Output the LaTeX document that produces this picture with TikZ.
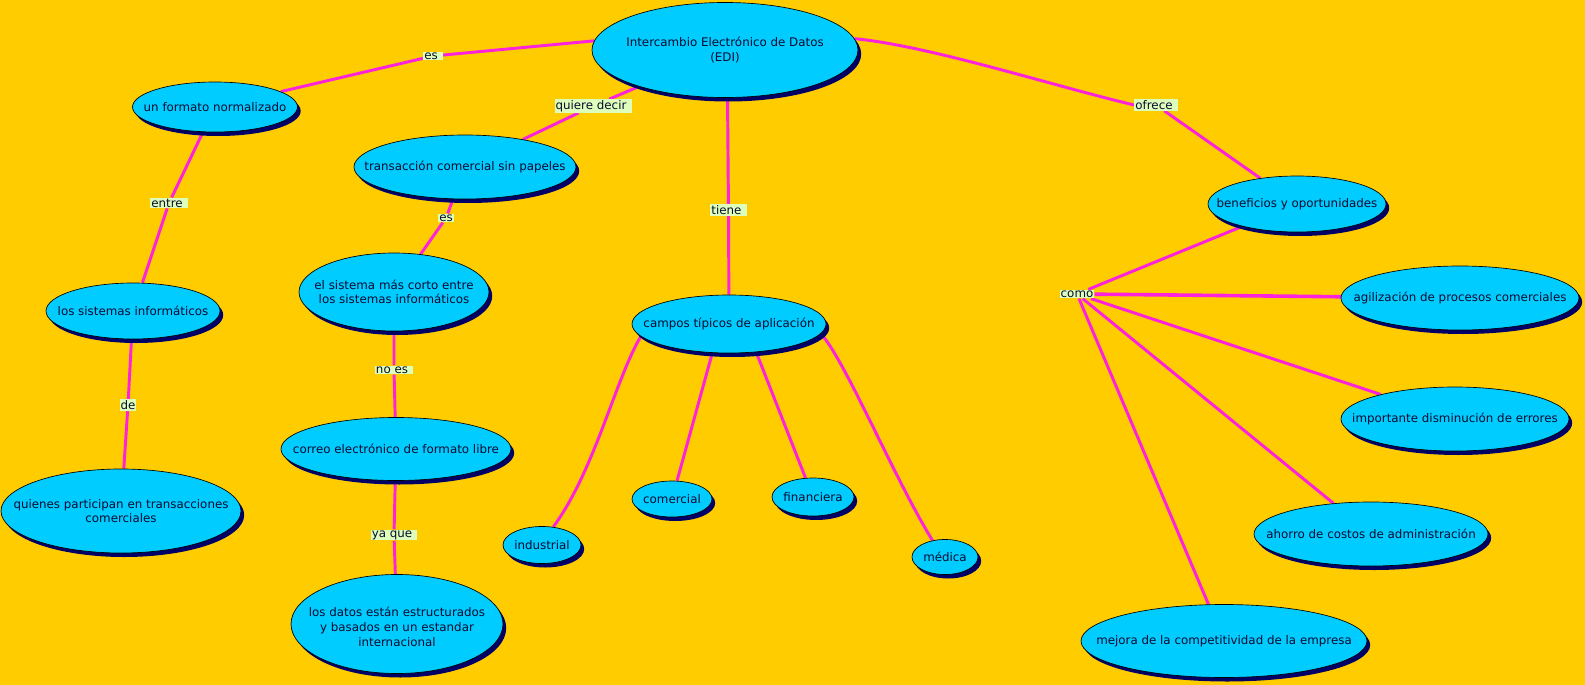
\documentclass[tikz,border=0pt]{standalone}
\usepackage{fontspec}
\setmainfont{DejaVu Sans}
\usetikzlibrary{shapes.geometric,shadows}
\definecolor{bgc}{HTML}{FFCC00}
\definecolor{cyanc}{HTML}{00CCFF}
\definecolor{navyc}{HTML}{000066}
\definecolor{linkc}{HTML}{FF22DD}
\definecolor{lblc}{HTML}{DDFFBB}
\definecolor{txtc}{HTML}{0A0A30}
\pgfdeclarelayer{back}
\pgfdeclarelayer{edges}
\pgfsetlayers{back,edges,main}
\tikzset{
  concept/.style={ellipse, draw=black, line width=0.5pt, fill=cyanc, inner sep=0pt,
    drop shadow={shadow xshift=2.4pt, shadow yshift=-3pt, fill=navyc, opacity=1}},
  ctext/.style={text=txtc, align=center, inner sep=0pt, font=\fontsize{8.9}{11}\selectfont},
  lbl/.style={fill=lblc, text=txtc, inner xsep=0.8pt, inner ysep=0.7pt, font=\fontsize{8.9}{10.5}\selectfont},
  link/.style={draw=linkc, line width=2.2pt},
  thick link/.style={draw=linkc, line width=2.7pt}
}
\begin{document}
\begin{tikzpicture}[x=0.75pt,y=-0.75pt]
\useasboundingbox (0,0) rectangle (1585,685);
\begin{pgfonlayer}{back}
\fill[bgc] (0,0) rectangle (1585,685);
\end{pgfonlayer}

% concepts
\node[concept, minimum width=199.5pt, minimum height=71.25pt] (EDI) at (725,50) {};
\node[ctext] (tEDI) at (EDI) {Intercambio Electrónico de Datos\\(EDI)};
\node[concept, minimum width=123.75pt, minimum height=37.5pt] (formato) at (215,107) {};
\node[ctext] (tformato) at (formato) {un formato normalizado};
\node[concept, minimum width=166.5pt, minimum height=48pt] (trans) at (465,167) {};
\node[ctext] (ttrans) at (trans) {transacción comercial sin papeles};
\node[concept, minimum width=142.5pt, minimum height=58.5pt] (sistema) at (394,292) {};
\node[ctext] (tsistema) at (sistema) {el sistema más corto entre\\ los sistemas informáticos};
\node[concept, minimum width=130.5pt, minimum height=42pt] (sisinf) at (133,311) {};
\node[ctext] (tsisinf) at (sisinf) {los sistemas informáticos};
\node[concept, minimum width=180pt, minimum height=63pt] (quienes) at (121,511) {};
\node[ctext] (tquienes) at (quienes) {quienes participan en transacciones\\comerciales};
\node[concept, minimum width=172.5pt, minimum height=47.25pt] (correo) at (396,449) {};
\node[ctext] (tcorreo) at (correo) {correo electrónico de formato libre};
\node[concept, minimum width=159pt, minimum height=74.25pt] (datos) at (397,624) {};
\node[ctext] (tdatos) at ([yshift=-2pt]datos.center) {los datos están estructurados\\ y basados en un estandar\\ internacional};
\node[concept, minimum width=145.5pt, minimum height=43.5pt] (campos) at (729,324) {};
\node[ctext] (tcampos) at (campos) {campos típicos de aplicación};
\node[concept, minimum width=58.5pt, minimum height=27.75pt] (industrial) at (542,545) {};
\node[ctext] (tindustrial) at (industrial) {industrial};
\node[concept, minimum width=60pt, minimum height=27pt] (comercial) at (672,499) {};
\node[ctext] (tcomercial) at (comercial) {comercial};
\node[concept, minimum width=61.5pt, minimum height=28.5pt] (financiera) at (813,497) {};
\node[ctext] (tfinanciera) at (financiera) {financiera};
\node[concept, minimum width=49.5pt, minimum height=26.25pt] (medica) at (945,557) {};
\node[ctext] (tmedica) at (medica) {médica};
\node[concept, minimum width=133.5pt, minimum height=42pt] (benef) at (1297,204) {};
\node[ctext] (tbenef) at (benef) {beneficios y oportunidades};
\node[concept, minimum width=178.5pt, minimum height=48pt] (agil) at (1460,298) {};
\node[ctext] (tagil) at (agil) {agilización de procesos comerciales};
\node[concept, minimum width=171pt, minimum height=48pt] (importante) at (1455,419) {};
\node[ctext] (timportante) at (importante) {importante disminución de errores};
\node[concept, minimum width=175.5pt, minimum height=48pt] (ahorro) at (1371,534) {};
\node[ctext] (tahorro) at (ahorro) {ahorro de costos de administración};
\node[concept, minimum width=214.5pt, minimum height=54.75pt] (mejora) at (1224,641) {};
\node[ctext] (tmejora) at (mejora) {mejora de la competitividad de la empresa};

% link labels
\node[lbl] (es1) at (433,56) {es\kern3pt};
\node[lbl] (quiere) at (593,106) {quiere decir\kern3pt};
\node[lbl] (tiene) at (728.5,210) {tiene\kern3pt};
\node[lbl] (ofrece) at (1156,105) {ofrece\kern3pt};
\node[lbl] (entre) at (169,203) {entre\kern3pt};
\node[lbl] (es2) at (446,218) {es};
\node[lbl] (de) at (128,405) {de};
\node[lbl] (noes) at (394,370) {no es\kern3pt};
\node[lbl] (yaque) at (394,535) {ya que\kern3pt};
\node[lbl] (como) at (1077,294) {como};

% connectors
\begin{pgfonlayer}{edges}
\draw[link] (EDI.176) -- (es1) -- (formato);
\draw[link] (EDI) -- (quiere) -- (trans);
\draw[link] (EDI.-87) -- (tiene) -- (campos);
\draw[link] (EDI.5) .. controls (930,46) and (1050,85) .. (ofrece.west);
\draw[link] (ofrece) -- (benef);
\draw[link] (formato) -- (entre) -- (sisinf);
\draw[link] (sisinf) -- (de) -- (quienes);
\draw[link] (trans) -- (es2) -- (sistema);
\draw[link] (sistema) -- (noes) -- (correo);
\draw[link] (correo) -- (yaque) -- (datos);
\draw[link] (campos.188) .. controls (615,380) and (595,470) .. (industrial.58);
\draw[link] (campos.-120) -- (comercial);
\draw[link] (campos.-46) -- (financiera);
\draw[link] (campos.-6) .. controls (845,360) and (895,480) .. (medica.127);
\draw[link] (benef) -- (como);
\draw[thick link] (como) -- (agil);
\draw[link] (como) -- (importante);
\draw[link] (como) -- (ahorro);
\draw[link] (como) -- (mejora);
\end{pgfonlayer}
\end{tikzpicture}
\end{document}
